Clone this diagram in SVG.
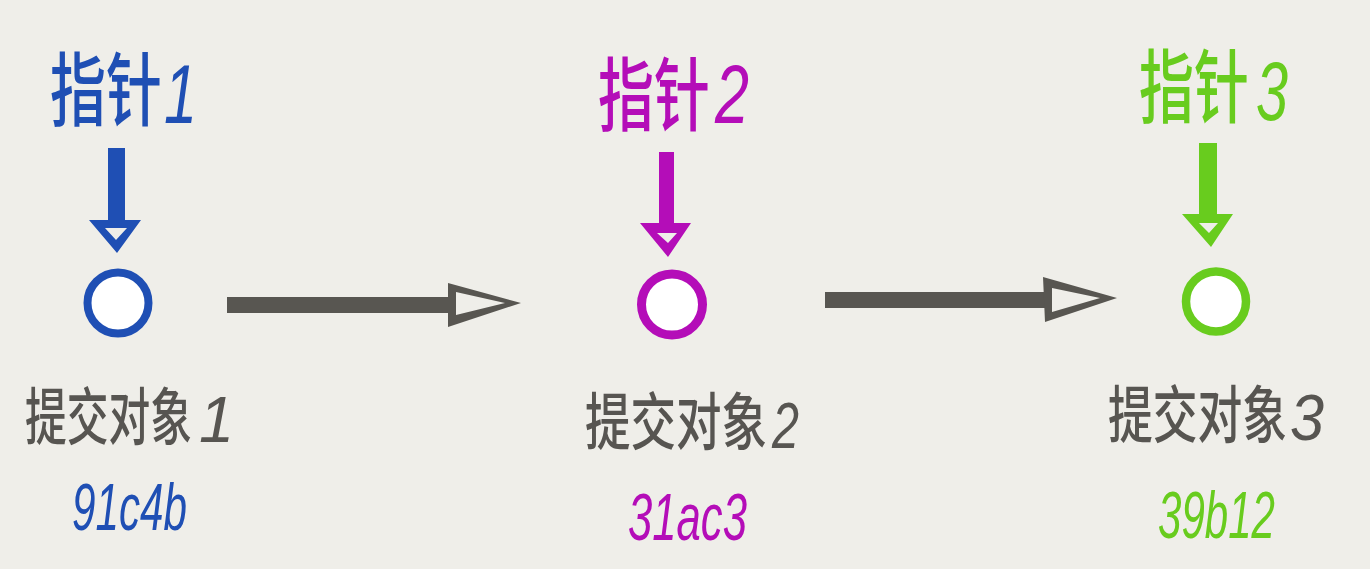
<svg xmlns="http://www.w3.org/2000/svg" width="1370" height="569" viewBox="0 0 1370 569">
<style>
.title{font-family:"Noto Sans CJK SC","Noto Sans",sans-serif;font-weight:500;font-size:80px}
.tdig{font-family:"Liberation Sans",sans-serif;font-style:italic;font-size:84px}
.label{font-family:"Noto Sans CJK SC","Noto Sans",sans-serif;font-weight:500;font-size:62px;fill:#575551}
.ldig{font-family:"Liberation Sans",sans-serif;font-style:italic;font-size:64px;fill:#575551}
.hash{font-family:"Liberation Sans",sans-serif;font-style:italic;font-size:67px}
.node{fill:#ffffff}
.blue{fill:#1f4fb4}
.mag{fill:#b40db8}
.green{fill:#68cc1e}
.shaft{fill:#585651}
</style>
<rect width="1370" height="569" fill="#efeee9"/>
<g id="connectors">
  <rect class="shaft" x="227" y="297" width="225" height="16"/>
  <path class="shaft" fill-rule="evenodd" d="M448,283 L448,327 L521,303 Z M456,292 L456,315 L505,303 Z"/>
  <rect class="shaft" x="825" y="292" width="222" height="16"/>
  <path class="shaft" fill-rule="evenodd" d="M1043,277 L1045,322 L1117,298 Z M1052,288 L1052,312 L1100,298 Z"/>
</g>
<g id="node1">
  <text class="title blue" transform="translate(50,119) scale(0.7,1)">指针</text>
  <text class="tdig blue" x="164" y="123" textLength="33" lengthAdjust="spacingAndGlyphs">1</text>
  <rect class="blue" x="108" y="148" width="17" height="76"/>
  <path class="blue" fill-rule="evenodd" d="M89,220 L141,220 L117,253 Z M105,228 L127,228 L116,240 Z"/>
  <circle class="node" cx="118" cy="303" r="30.5" stroke="#1f4fb4" stroke-width="8"/>
  <text class="label" transform="translate(25,440) scale(0.673,1)">提交对象</text>
  <text class="ldig" x="199" y="442" textLength="35" lengthAdjust="spacingAndGlyphs">1</text>
  <text class="hash blue" x="72" y="530" textLength="115" lengthAdjust="spacingAndGlyphs">91c4b</text>
</g>
<g id="node2">
  <text class="title mag" transform="translate(598,124) scale(0.7,1)">指针</text>
  <text class="tdig mag" x="715" y="123" textLength="34" lengthAdjust="spacingAndGlyphs">2</text>
  <rect class="mag" x="659" y="152" width="15" height="75"/>
  <path class="mag" fill-rule="evenodd" d="M640,223 L691,223 L668,257 Z M657,233 L677,233 L668,243 Z"/>
  <circle class="node" cx="672" cy="304.5" r="30.5" stroke="#b40db8" stroke-width="9"/>
  <text class="label" transform="translate(585,445) scale(0.734,1)">提交对象</text>
  <text class="ldig" x="772" y="448" textLength="27" lengthAdjust="spacingAndGlyphs">2</text>
  <text class="hash mag" x="628" y="540" textLength="119" lengthAdjust="spacingAndGlyphs">31ac3</text>
</g>
<g id="node3">
  <text class="title green" transform="translate(1139,116) scale(0.6875,1)">指针</text>
  <text class="tdig green" x="1256" y="120" textLength="32" lengthAdjust="spacingAndGlyphs">3</text>
  <rect class="green" x="1199" y="143" width="18" height="75"/>
  <path class="green" fill-rule="evenodd" d="M1182,214 L1233,214 L1211,247 Z M1199,223 L1218,223 L1209,233 Z"/>
  <circle class="node" cx="1216" cy="301.5" r="30" stroke="#68cc1e" stroke-width="8.5"/>
  <text class="label" transform="translate(1108,438) scale(0.722,1)">提交对象</text>
  <text class="ldig" x="1290" y="440" textLength="34" lengthAdjust="spacingAndGlyphs">3</text>
  <text class="hash green" x="1158" y="538" textLength="117" lengthAdjust="spacingAndGlyphs">39b12</text>
</g>
</svg>
